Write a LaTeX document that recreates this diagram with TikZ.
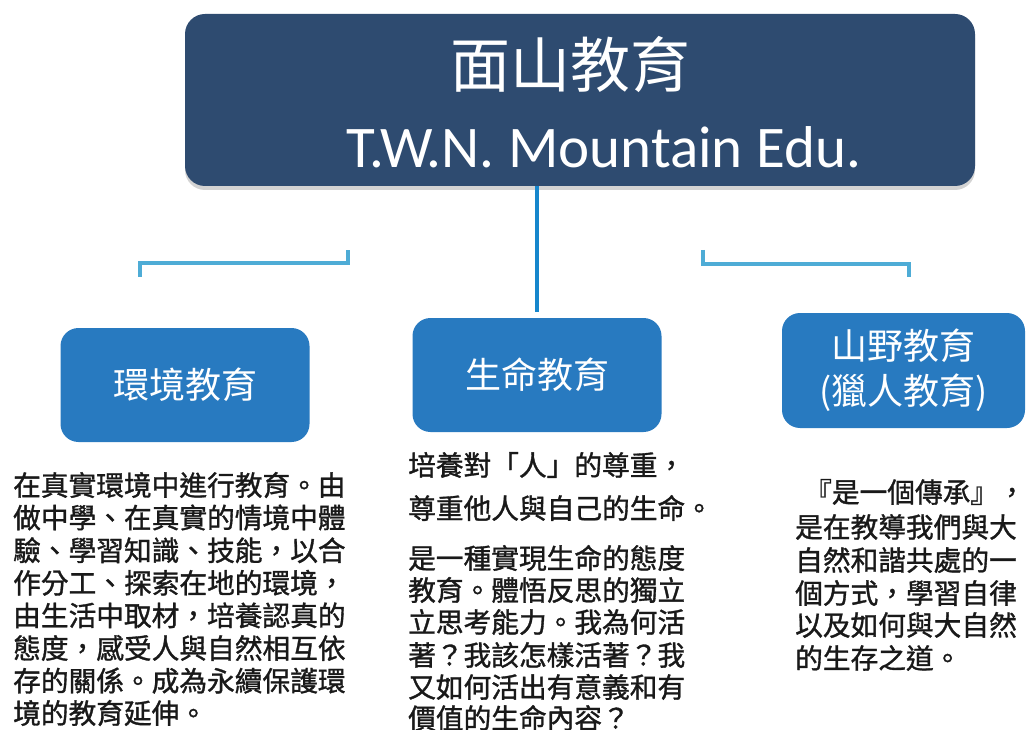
\documentclass[tikz,border=0pt]{standalone}
\usepackage{fontspec}
\setmainfont{Carlito}
\newfontfamily\cjk{Noto Sans CJK TC}
\newfontfamily\cjkbody[FakeBold=1.2]{Noto Sans CJK TC}
\usetikzlibrary{shadows}
\definecolor{navy}{RGB}{46,75,112}
\definecolor{boxblue}{RGB}{40,122,192}
\definecolor{linkblue}{RGB}{22,134,204}
\definecolor{stubblue}{RGB}{78,172,214}
\definecolor{ink}{RGB}{25,25,25}
\begin{document}
\begin{tikzpicture}[x=1pt,y=-1pt,
  headbox/.style={fill=navy,rounded corners=20pt,minimum width=790pt,minimum height=172pt,
    drop shadow={shadow xshift=0pt,shadow yshift=-4pt,opacity=0.35}},
  catbox/.style={fill=boxblue,rounded corners=18pt,minimum width=249pt,minimum height=114pt,
    text=white,align=center,font=\cjk\fontsize{36}{45}\selectfont},
  body/.style={anchor=west,inner sep=0pt,text=ink,font=\cjkbody\fontsize{27.7}{32}\selectfont},
  link/.style={linkblue,line width=3.5pt},
  stub/.style={stubblue,line width=3.5pt}]
\useasboundingbox (0,0) rectangle (1026,730);
\node[headbox] (head) at (580,100) {};
\node[text=white,font=\cjk\fontsize{60}{60}\selectfont] (title) at (570,65) {面山教育};
\node[text=white,font=\fontsize{59}{59}\selectfont] (subtitle) at (604,147) {T.W.N. Mountain Edu.};
\node[catbox] (env) at (185,385) {環境教育};
\node[catbox] (life) at (537,375) {生命教育};
\node[catbox,minimum width=243pt,minimum height=115pt] (wild) at (903.5,370.5) {山野教育\\(獵人教育)};
\draw[link] (head.south -| life.north) -- ([yshift=6pt]life.north);
\coordinate (envstub) at (140,277);
\coordinate (envturn) at (348,263);
\coordinate (envend) at (348,250);
\draw[stub] (envstub) |- (envturn) -- (envend);
\coordinate (wildstub) at (703,250);
\coordinate (wildturn) at (909,264);
\coordinate (wildend) at (909,277);
\draw[stub] (wildstub) |- (wildturn) -- (wildend);
\foreach \y/\t [count=\i] in {485/在真實環境中進行教育。由,517.6/做中學、在真實的情境中體,550.2/驗、學習知識、技能，以合,582.8/作分工、探索在地的環境，,615.4/由生活中取材，培養認真的,648/態度，感受人與自然相互依,680.6/存的關係。成為永續保護環,713/境的教育延伸。}
  \node[body] (envtext\i) at (13,\y) {\t};
\foreach \y/\t [count=\i] in {465/培養對「人」的尊重，,508/尊重他人與自己的生命。,558/是一種實現生命的態度,590/教育。體悟反思的獨立,622/立思考能力。我為何活,655/著？我該怎樣活著？我,687/又如何活出有意義和有,718/價值的生命內容？}
  \node[body] (lifetext\i) at (408,\y) {\t};
\foreach \x/\y/\t [count=\i] in {804/492/『是一個傳承』，,795/527/是在教導我們與大,795/560/自然和諧共處的一,795/593/個方式，學習自律,795/625/以及如何與大自然,795/658/的生存之道。}
  \node[body] (wildtext\i) at (\x,\y) {\t};
\end{tikzpicture}
\end{document}
